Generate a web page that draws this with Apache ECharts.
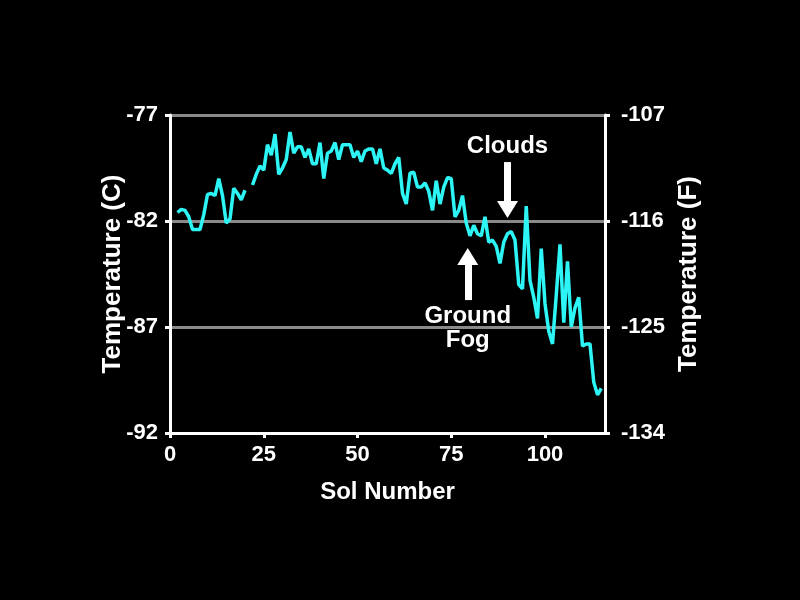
<!DOCTYPE html>
<html>
<head>
<meta charset="utf-8">
<script src="https://cdn.jsdelivr.net/npm/echarts@6/dist/echarts.min.js"></script>
<style>
  * { margin: 0; padding: 0; }
  body { background: #000; }
  #chart { width: 800px; height: 600px; }
</style>
</head>
<body>
<div id="chart"></div>
<script>
// sol numbers and daily temperatures (C), sol 21 missing
const sols = [2,3,4,5,6,7,8,9,10,11,12,13,14,15,16,17,18,19,20,21,22,23,24,25,26,27,28,29,30,
  31,32,33,34,35,36,37,38,39,40,41,42,43,44,45,46,47,48,49,50,51,52,53,54,55,56,57,58,59,60,
  61,62,63,64,65,66,67,68,69,70,71,72,73,74,75,76,77,78,79,80,81,82,83,84,85,86,87,88,89,90,
  91,92,93,94,95,96,97,98,99,100,101,102,103,104,105,106,107,108,109,110,111,112,113,114,115];
const tempsC = [-81.6,-81.45,-81.5,-81.8,-82.4,-82.4,-82.4,-81.7,-80.75,-80.7,-80.8,-80.0,-80.8,-82.1,
  -81.9,-80.45,-80.7,-81.0,-80.55,null,-80.3,-79.8,-79.4,-79.6,-78.4,-78.9,-77.9,-79.8,-79.5,
  -79.1,-77.8,-78.8,-78.5,-78.5,-79.0,-78.6,-79.3,-79.3,-78.3,-80.0,-78.8,-78.7,-78.3,-79.1,-78.4,
  -78.4,-78.4,-79.0,-78.7,-79.2,-78.7,-78.6,-78.6,-79.3,-78.6,-79.5,-79.6,-79.75,-79.3,
  -79.0,-80.7,-81.2,-79.75,-79.7,-80.4,-80.4,-80.2,-80.6,-81.5,-80.1,-81.2,-80.4,-79.95,-80.0,
  -81.8,-81.5,-80.8,-82.1,-82.7,-82.2,-82.6,-82.7,-81.8,-83.0,-82.9,-83.2,-84.0,-83.0,-82.6,
  -82.5,-82.9,-85.0,-85.2,-81.3,-84.8,-85.6,-86.6,-83.3,-85.9,-87.2,-87.8,-85.5,-83.1,-86.8,
  -83.9,-87.0,-86.1,-85.6,-87.9,-87.8,-87.8,-89.6,-90.2,-89.9];

// annotation arrows: [sol, tail temp, head temp]
const cloudsArrow = [90.0, -79.22, -81.46];
const fogArrow = [79.4, -85.73, -83.67];

const font = "'Liberation Sans', Arial, sans-serif";
const white = '#ffffff';

const points = sols.map((s, i) => [s, tempsC[i]]);

const chart = echarts.init(document.getElementById('chart'));
chart.setOption({
  backgroundColor: '#000',
  animation: false,
  grid: { left: 170, right: 195, top: 115, bottom: 167, containLabel: false, outerBoundsMode: 'none' },
  xAxis: {
    type: 'value',
    min: 0, max: 116, interval: 25,
    name: 'Sol Number',
    nameLocation: 'middle',
    nameGap: 47,
    nameTextStyle: { color: white, fontSize: 24, fontWeight: 'bold', fontFamily: font },
    axisLine: { lineStyle: { color: white, width: 3 } },
    axisTick: { length: 5, lineStyle: { color: white, width: 3 } },
    axisLabel: {
      color: white, fontSize: 22, fontWeight: 'bold', fontFamily: font, margin: 11,
      showMaxLabel: false,
      formatter: v => (v % 25 === 0 ? String(v) : '')
    },
    splitLine: { show: false }
  },
  yAxis: [{
    type: 'value',
    min: -92, max: -77, interval: 5,
    position: 'left',
    name: 'Temperature (C)',
    nameLocation: 'middle',
    nameGap: 44,
    nameMoveOverlap: false,
    nameTextStyle: { color: white, fontSize: 26, fontWeight: 'bold', fontFamily: font },
    axisLine: { show: true, lineStyle: { color: white, width: 3 } },
    axisTick: { show: true, length: 5, lineStyle: { color: white, width: 3 } },
    axisLabel: { color: white, fontSize: 22, fontWeight: 'bold', fontFamily: font, margin: 12 },
    splitLine: { show: true, lineStyle: { color: '#8a8a8a', width: 3 } }
  }, {
    type: 'value',
    min: -92, max: -77, interval: 5,
    position: 'right',
    name: 'Temperature (F)',
    nameLocation: 'middle',
    nameGap: 68,
    nameRotate: 90,
    nameTextStyle: { color: white, fontSize: 26, fontWeight: 'bold', fontFamily: font },
    axisLine: { show: true, lineStyle: { color: white, width: 3 } },
    axisTick: { show: true, length: 5, lineStyle: { color: white, width: 3 } },
    axisLabel: {
      color: white, fontSize: 22, fontWeight: 'bold', fontFamily: font, margin: 16,
      formatter: v => String(Math.round(v * 9 / 5 + 32))
    },
    splitLine: { show: false }
  }],
  series: [{
    type: 'line',
    data: points,
    yAxisIndex: 0,
    showSymbol: false,
    connectNulls: false,
    lineStyle: { color: '#2ef5f5', width: 3.5 },
    markLine: {
      silent: true,
      symbol: ['none', 'triangle'],
      symbolSize: [21, 17],
      lineStyle: { color: white, width: 7, type: 'solid' },
      label: {
        show: true, position: 'start', distance: 4,
        color: white, fontSize: 24, fontWeight: 'bold', fontFamily: font,
        align: 'center', lineHeight: 24
      },
      data: [
        [{ coord: [cloudsArrow[0], cloudsArrow[1]], label: { formatter: 'Clouds' } },
         { coord: [cloudsArrow[0], cloudsArrow[2]] }],
        [{ coord: [fogArrow[0], fogArrow[1]], label: { formatter: 'Ground\nFog' } },
         { coord: [fogArrow[0], fogArrow[2]] }]
      ]
    }
  }]
});
</script>
</body>
</html>
